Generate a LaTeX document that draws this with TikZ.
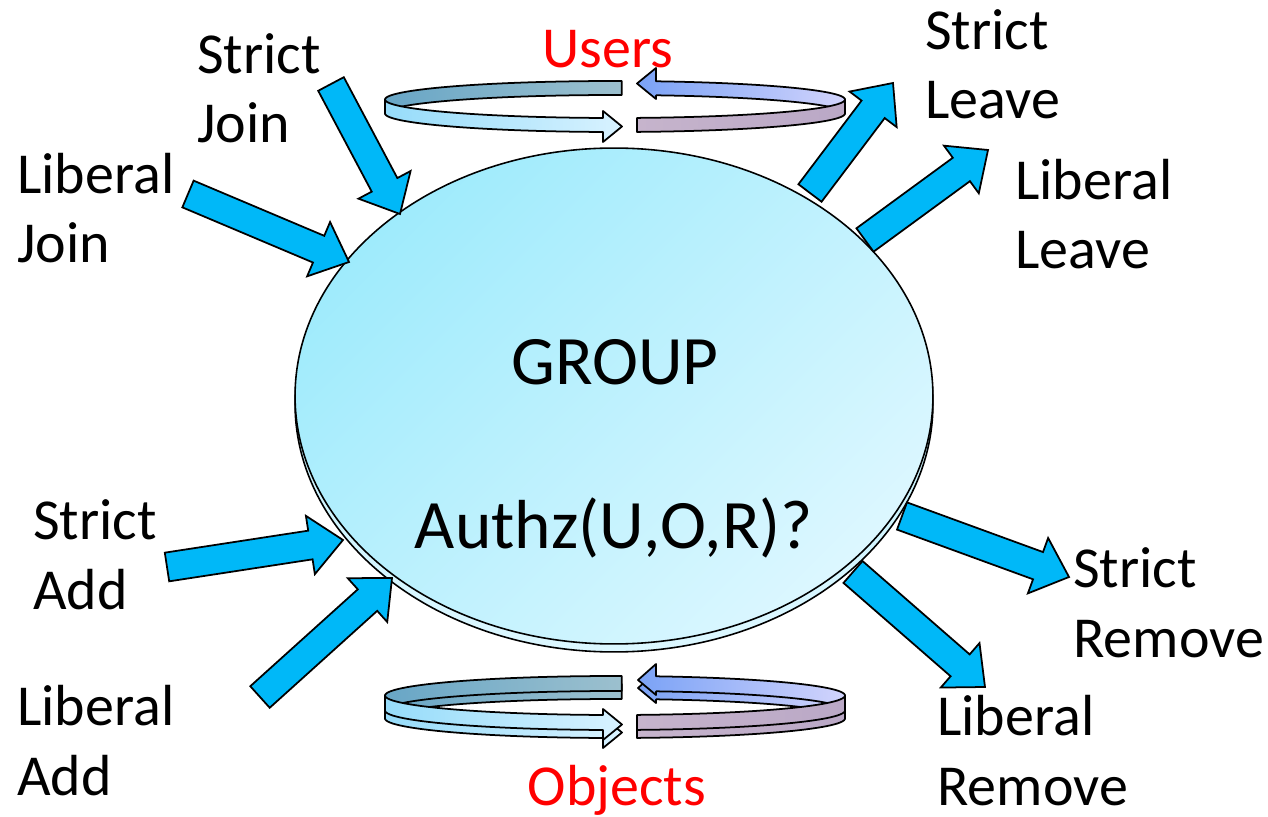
\documentclass[tikz,border=0pt]{standalone}
\usepackage{fontspec}
\setmainfont{Carlito}
\usetikzlibrary{calc,shapes.geometric}

\definecolor{arrowblue}{HTML}{00B8F8}
\definecolor{diskcyan}{HTML}{9FEBFC}
\definecolor{disklight}{HTML}{DCF7FF}
\definecolor{backl}{HTML}{68A6C6}
\definecolor{backlr}{HTML}{9CC0CE}
\definecolor{frontl}{HTML}{96DCFA}
\definecolor{frontlr}{HTML}{D8F2FF}
\definecolor{backr}{HTML}{7AA2F6}
\definecolor{backrr}{HTML}{D2D4FC}
\definecolor{frontr}{HTML}{C6B4CC}
\definecolor{frontrr}{HTML}{BAA8C6}

\tikzset{
  bigarrow/.style={draw=black, fill=arrowblue, line width=1pt, line join=miter},
  ringpart/.style={draw=black, line width=1pt, line join=round},
  disk/.style={ellipse, draw=black, line width=0.9pt, inner sep=0pt, outer sep=0pt,
    minimum width=12.76cm, minimum height=9.92cm,
    top color=diskcyan, bottom color=disklight, shading angle=45},
  lbl/.style={font=\fontsize{33}{39.7}\selectfont, align=left, inner sep=0pt, anchor=base west},
  bigtxt/.style={font=\fontsize{39.5}{46}\selectfont, inner sep=0pt, anchor=base}
}

% block arrow from tail (#1) to tip (#2)
\newcommand{\blockarrow}[2]{%
  \path ($(#2)!0.66cm!(#1)$) coordinate (ba-base);
  \draw[bigarrow] ($(#1)!0.29cm!90:(#2)$) -- ($(ba-base)!0.29cm!90:(#2)$)
    -- ($(ba-base)!0.59cm!90:(#2)$) -- (#2) -- ($(ba-base)!0.59cm!-90:(#2)$)
    -- ($(ba-base)!0.29cm!-90:(#2)$) -- ($(#1)!0.29cm!-90:(#2)$) -- cycle;}

% one piece of a ribbon ring: from angle, to angle, extra path (head), style
\newcommand{\ringpiece}[4]{%
  \draw[ringpart,#4] plot[domain=#1:#2,samples=30,variable=\t]
      ({\rcx+\rrx*cos(\t)},{\rcy+\rry*sin(\t)})
    -- plot[domain=#2:#1,samples=30,variable=\t]
      ({\rcx+\rrx*cos(\t)},{\rcy+\rh+\rry*sin(\t)}) #3 -- cycle;}

\begin{document}
\begin{tikzpicture}[x=0.02cm,y=-0.02cm]
\useasboundingbox (0,0) rectangle (1268,817);

% the group disk
\node[disk, top color=diskcyan!70!disklight] (groupback) at (614,404) {};
\node[disk] (group) at (614,396) {};
\node[bigtxt] (gname) at (615,385) {GROUP};
\node[bigtxt] (authz) at (614,548) {Authz(U,O,R)?};

% users ring
\def\rcx{615}\def\rcy{99.5}\def\rrx{230}\def\rry{18.5}\def\rh{14}
\ringpiece{180}{271.7}{}{left color=backl, right color=backlr}
\ringpiece{280.3}{360}{-- (656,99) -- (637,83.5) -- (656,68)}{left color=backr, right color=backrr}
\ringpiece{93}{180}{-- (603,142) -- (622,126.5) -- (603,111)}{left color=frontl, right color=frontlr}
\ringpiece{0}{84.5}{}{left color=frontr, right color=frontrr}
\node[lbl, anchor=base, red] (users) at (608,68) {Users};

% objects ring, two layers
\def\rcy{695.5}\def\rry{19.5}\def\rh{15}
\foreach \dy in {8,0} {
  \begin{scope}[shift={(0,\dy)}]
    \ringpiece{180}{271.7}{}{left color=backl, right color=backlr}
    \ringpiece{280.3}{360}{-- (656,695) -- (638,680) -- (656,664)}{left color=backr, right color=backrr}
    \ringpiece{93}{180}{-- (603,740) -- (622,724.5) -- (603,709)}{left color=frontl, right color=frontlr}
    \ringpiece{0}{84.5}{}{left color=frontr, right color=frontrr}
  \end{scope}
}
\node[lbl, anchor=base, red] (objects) at (617,805) {Objects};

% arrow ends
\coordinate (sjoin-t) at (331,84);    \coordinate (sjoin-h) at (400,214);
\coordinate (ljoin-t) at (188,194);   \coordinate (ljoin-h) at (349,262);
\coordinate (sleave-t) at (810,193);  \coordinate (sleave-h) at (893,83);
\coordinate (lleave-t) at (865,240);  \coordinate (lleave-h) at (988,150);
\coordinate (sadd-t) at (167,567);    \coordinate (sadd-h) at (343,540);
\coordinate (ladd-t) at (260,697);    \coordinate (ladd-h) at (392,578);
\coordinate (srem-t) at (902,516);    \coordinate (srem-h) at (1069,577);
\coordinate (lrem-t) at (853,572);    \coordinate (lrem-h) at (985,687);

\blockarrow{sjoin-t}{sjoin-h}
\blockarrow{ljoin-t}{ljoin-h}
\blockarrow{sleave-t}{sleave-h}
\blockarrow{lleave-t}{lleave-h}
\blockarrow{sadd-t}{sadd-h}
\blockarrow{ladd-t}{ladd-h}
\blockarrow{srem-t}{srem-h}
\blockarrow{lrem-t}{lrem-h}

% labels (base = last line)
\node[lbl] (sjoin-lbl) at (197,143) {Strict\\Join};
\node[lbl] (ljoin-lbl) at (17,263) {Liberal\\Join};
\node[lbl] (sleave-lbl) at (925,119) {Strict\\Leave};
\node[lbl] (lleave-lbl) at (1015,269) {Liberal\\Leave};
\node[lbl] (sadd-lbl) at (33,609) {Strict\\Add};
\node[lbl] (ladd-lbl) at (17,795) {Liberal\\Add};
\node[lbl] (srem-lbl) at (1073,657) {Strict\\Remove};
\node[lbl] (lrem-lbl) at (937,805) {Liberal\\Remove};
\end{tikzpicture}
\end{document}
